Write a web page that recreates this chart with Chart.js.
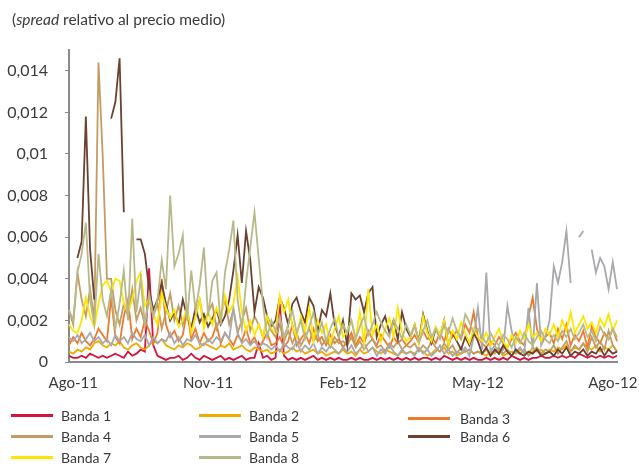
<!DOCTYPE html>
<html>
<head>
<meta charset="utf-8">
<script src="https://cdn.jsdelivr.net/npm/chart.js@4.4.1/dist/chart.umd.min.js"></script>
<style>
  body { margin: 0; background: #fff; }
  #wrap { position: relative; width: 639px; height: 466px; font-family: Lato, "Open Sans", sans-serif; color: #3a3a3a; }
  #title { position: absolute; left: 12px; top: 10px; font-size: 15.5px; line-height: 18px; white-space: nowrap; }
  .item { position: absolute; font-size: 14px; line-height: 16px; white-space: nowrap; }
  .item .ln { position: absolute; left: 0; top: 6px; width: 42px; height: 3px; }
  .item span { position: absolute; top: 0; }
</style>
</head>
<body>
<div id="wrap">
  <canvas id="chart" width="639" height="466"></canvas>
  <div id="title">(<i>spread</i> relativo al precio medio)</div>
  <div id="legend"></div>
</div>
<script>
// x axis: ~every other trading day, Aug 2011 - Aug 2012 (131 points)
const N = 131;
const tickLabels = ['Ago-11', 'Nov-11', 'Feb-12', 'May-12', 'Ago-12'];
const tickIndex = [1, 33, 65, 97, 129];

const names = ['Banda 1', 'Banda 2', 'Banda 3', 'Banda 4', 'Banda 5', 'Banda 6', 'Banda 7', 'Banda 8'];
const colors = ['#d5133f', '#f0ab00', '#ec7b2f', '#c49b63', '#a8a9ad', '#6b4130', '#ffe600', '#b8b98a'];

// values in units of 0.0001 (spread relativo)
const banda1 = [3,2,2,3,2,4,3,2,3, 2,3,4,3,2,5,3,4, 6,5,45,8,3,2,1,2, 2,3,1,2,4,2,1,3,2,
  1,2,3,1,2,1,2,3,1,2,2,9,2,3,1, 2,28,3,1,2,1,2,1,2,3,1,2,1,2,1,2,1,
  1,2,1,2,1,1,2,1,2,1,2,1,2,1,2, 1,2,1,2,2,1,2,1,3,2,1,2,1,2,1,2,1,
  1,2,1,2,1,2,1,3,2,1,2,1,2,2,3,2, 2,3,2,3,2,3,2,4,3,2,3,2,3,2,3,2,3];
const banda2 = [5,4,6,5,7,6,9,10,8, 7,9,8,10,7,6,8,9, 7,6,8,10,9,11,8,7, 6,8,7,9,8,6,7,9,8,
  7,6,8,7,9,6,7,8,6,5,7,6,5,6,4, 5,6,4,5,7,5,6,4,5,6,4,5,3,4,5,4,6,
  4,5,3,6,4,5,7,5,4,6,5,4,3,5,4, 5,4,6,5,3,4,6,5,7,4,5,3,4,5,6,4,5,
  4,3,5,4,6,3,4,5,4,6,5,4,7,5,6,4, 6,5,7,6,8,5,7,6,9,7,6,8,5,7,6,8,5];
const banda3 = [8,12,9,14,10,8,11,16,13, 10,31,12,9,22,30,11,16, 12,20,15,9,14,40,18,12, 15,10,13,25,11,16,9,14,10,
  12,18,9,14,11,8,13,10,16,9,12,7,10,14,8, 9,12,7,10,18,8,11,14,9,16,10,12,8,13,9,11,7,
  10,14,8,12,9,15,11,8,13,10,7,12,9,11,8, 10,13,9,15,11,12,9,14,10,16,12,15,11,18,14,24,12,
  9,7,10,8,12,9,7,11,14,10,8,22,31,16,10,12, 14,9,16,11,18,8,13,10,15,7,17,12,9,14,11,16,10];
const banda4 = [25,18,43,30,22,35,20,144,99, 40,40,25,18,28,22,35,20, 26,18,30,22,28,16,24,33, 20,27,18,25,15,22,30,19,24,
  28,16,22,30,18,25,14,20,26,15,22,18,12,20,15, 12,18,10,15,9,14,8,12,16,10,13,8,11,7,12,9,10,
  8,12,7,10,6,9,11,7,8,5,9,7,10,6,8, 7,9,5,8,6,10,7,5,9,6,8,4,7,5,6,4,5,
  4,6,3,5,7,4,6,3,5,4,6,3,5,7,4,6, 5,8,4,7,10,5,8,6,9,5,12,7,10,6,15,8,5];
const banda5 = [12,10,13,9,11,14,10,12,9, 11,8,13,10,12,9,14,11, 10,13,8,12,9,11,10,14, 9,12,8,11,10,13,9,8,11,
  9,12,10,14,11,26,14,9,11,8,10,7,9,8,6, 8,5,9,7,6,10,5,8,6,9,4,7,5,8,6,4,7,
  5,8,4,6,9,5,7,3,6,4,8,5,3,6,4, 5,3,7,4,6,3,5,8,4,6,3,5,4,7,3,12,26,
  6,43,5,8,4,6,27,15,5,7,4,26,6,38,8,12, 20,46,38,48,63,38,null,60,63,null,54,43,50,46,35,48,35];
const banda6 = [null,null,50,58,118,54,30,null,null, null,117,125,146,72,null,null,59, 59,52,35,25,30,38,28,20, 24,18,30,22,16,26,19,23,17,
  21,25,18,22,30,44,61,38,63,49,24,36,31,22,17, 20,31,26,18,28,31,24,19,31,27,15,25,22,33,18,12,20,
  8,33,30,32,24,33,36,12,18,22,14,20,11,24,16, 12,18,10,23,15,9,16,12,20,8,14,10,6,12,8,14,10,
  4,7,3,6,4,8,5,3,6,4,3,5,4,6,3,4, 5,3,6,4,7,3,5,4,6,3,5,4,7,3,6,4,5];
const banda7 = [18,15,14,20,31,22,17,28,37, 39,34,40,39,28,24,30,39, 43,27,30,23,18,33,26,21, 25,17,20,26,14,22,30,16,24,
  18,26,20,32,24,28,41,24,15,20,13,18,12,22,16, 14,32,24,30,17,12,22,15,26,10,20,14,18,9,16,22,12,
  15,20,11,24,9,35,13,18,10,16,21,12,26,14,10, 12,18,9,22,14,10,17,13,20,8,15,11,19,14,9,16,12,
  10,14,8,12,16,10,7,13,9,15,11,18,12,14,10,16, 13,18,12,20,15,24,14,18,22,16,19,14,21,17,23,15,20];
const banda8 = [25,20,43,52,67,30,18,52,30, 22,35,16,28,44,20,69,24, 40,18,33,22,30,49,35,80, 46,52,61,20,44,25,37,55,22,
  39,43,18,43,54,68,30,16,38,55,72,50,28,12,20, 15,22,12,18,25,14,20,11,17,24,13,19,10,16,21,12,18,
  14,20,11,17,22,13,18,24,19,15,12,20,16,11,18, 13,17,10,15,20,12,16,11,18,14,21,15,12,23,19,14,16,
  12,9,14,10,8,13,11,7,12,9,14,10,8,12,15,11, 9,13,10,15,12,16,11,14,18,12,15,10,17,13,11,16,12];

const series = [banda1, banda2, banda3, banda4, banda5, banda6, banda7, banda8];

const labels = Array(N).fill('');
tickIndex.forEach((k, j) => { labels[k] = tickLabels[j]; });

const datasets = series.map((s, i) => ({
  label: names[i],
  data: s.map(v => v == null ? null : v / 10000),
  borderColor: colors[i],
  backgroundColor: colors[i],
  borderWidth: 1.8,
  pointRadius: 0,
  tension: 0,
  spanGaps: false,
  order: series.length - i
}));

const axisColor = '#8a8a8a';
const textColor = '#3a3a3a';

new Chart(document.getElementById('chart'), {
  type: 'line',
  data: { labels, datasets },
  options: {
    responsive: false,
    animation: false,
    layout: { padding: { top: 50, right: 22, left: 0, bottom: 73 } },
    plugins: { legend: { display: false }, tooltip: { enabled: false } },
    scales: {
      x: {
        grid: { display: false, drawTicks: false },
        border: { display: true, color: axisColor, width: 2 },
        ticks: { autoSkip: false, maxRotation: 0, minRotation: 0, padding: 12, color: textColor,
                 font: { family: 'Lato', size: 15 } },
        afterFit(s) { s.height = 31; }
      },
      y: {
        min: 0, max: 0.015,
        grid: { drawOnChartArea: false, tickLength: 4, color: axisColor },
        border: { color: axisColor, width: 2 },
        ticks: { stepSize: 0.002, padding: 17, color: textColor, font: { family: 'Lato', size: 16 },
                 callback: v => String(+v.toFixed(3)).replace('.', ',') },
        afterBuildTicks(s) {
          s.ticks = s.ticks.filter(t => Math.abs(t.value / 0.002 - Math.round(t.value / 0.002)) < 1e-6);
        },
        afterFit(s) { s.width = 69; }
      }
    }
  }
});

// legend, three columns
const legendPos = [
  [11, 408, 50], [199, 408, 50], [408, 411, 52],
  [11, 429, 50], [199, 429, 50], [408, 429, 52],
  [11, 450, 50], [199, 450, 50]
];
const legend = document.getElementById('legend');
names.forEach((n, i) => {
  const [x, y, off] = legendPos[i];
  const d = document.createElement('div');
  d.className = 'item';
  d.style.left = x + 'px';
  d.style.top = y + 'px';
  d.innerHTML = '<div class="ln" style="background:' + colors[i] + '"></div><span style="left:' + off + 'px">' + n + '</span>';
  legend.appendChild(d);
});
</script>
</body>
</html>
